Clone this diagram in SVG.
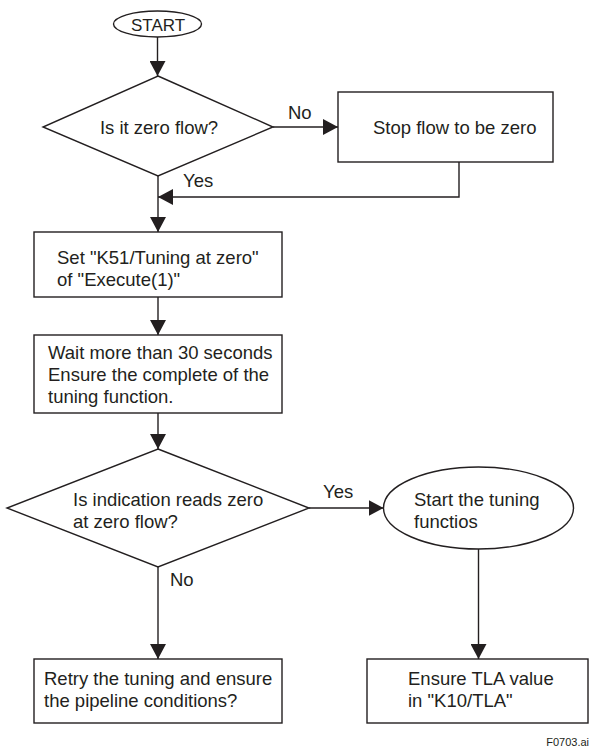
<svg xmlns="http://www.w3.org/2000/svg" width="591" height="751" viewBox="0 0 591 751">
<style>
.s{fill:#ffffff;stroke:#231f20;stroke-width:1.4}
.c{fill:none;stroke:#231f20;stroke-width:1.4}
text{font-family:"Liberation Sans",Arial,sans-serif;font-size:18.5px;fill:#231f20}
.m{text-anchor:middle}
</style>
<defs>
<marker id="ah" markerUnits="userSpaceOnUse" markerWidth="15" markerHeight="16" refX="15" refY="8" orient="auto">
<path d="M0,0 L15,8 L0,16 z" fill="#231f20"/>
</marker>
</defs>
<rect width="591" height="751" fill="#ffffff"/>
<g id="connectors">
<path class="c" d="M157.5,37 V76" marker-end="url(#ah)"/>
<path class="c" d="M273,127 H338" marker-end="url(#ah)"/>
<path class="c" d="M459,162 V197 H158" marker-end="url(#ah)"/>
<path class="c" d="M158,176 V232" marker-end="url(#ah)"/>
<path class="c" d="M158,297 V335" marker-end="url(#ah)"/>
<path class="c" d="M158,413 V449" marker-end="url(#ah)"/>
<path class="c" d="M309,508 H383.5" marker-end="url(#ah)"/>
<path class="c" d="M158,567 V659" marker-end="url(#ah)"/>
<path class="c" d="M478.5,549 V659" marker-end="url(#ah)"/>
<text x="288" y="119">No</text>
<text x="183" y="187">Yes</text>
<text x="323" y="498">Yes</text>
<text x="170" y="586">No</text>
</g>
<g id="start">
<ellipse class="s" cx="157.5" cy="24" rx="44" ry="13"/>
<text class="m" x="158" y="30.5" style="font-size:17px">START</text>
</g>
<g id="decision1">
<polygon class="s" points="158,76 273,127 158,176 43,127"/>
<text class="m" x="159" y="133.5">Is it zero flow?</text>
</g>
<g id="stopflow">
<rect class="s" x="338" y="92" width="215" height="70"/>
<text x="373" y="134">Stop flow to be zero</text>
</g>
<g id="setk51">
<rect class="s" x="34" y="232" width="248" height="65"/>
<text x="57" y="263.5">Set "K51/Tuning at zero"</text>
<text x="57" y="285.5">of "Execute(1)"</text>
</g>
<g id="wait">
<rect class="s" x="34" y="335" width="248" height="78"/>
<text x="48" y="358.5">Wait more than 30 seconds</text>
<text x="48" y="380.5">Ensure the complete of the</text>
<text x="48" y="402.5">tuning function.</text>
</g>
<g id="decision2">
<polygon class="s" points="158,449 309,508 158,567 7,508"/>
<text x="73" y="505.5">Is indication reads zero</text>
<text x="73" y="527.5">at zero flow?</text>
</g>
<g id="starttuning">
<ellipse class="s" cx="478.5" cy="508" rx="95" ry="41"/>
<text x="414" y="505.5">Start the tuning</text>
<text x="414" y="527.5">functios</text>
</g>
<g id="retry">
<rect class="s" x="34" y="659" width="248" height="64"/>
<text x="44" y="684.5">Retry the tuning and ensure</text>
<text x="44" y="706.5">the pipeline conditions?</text>
</g>
<g id="ensuretla">
<rect class="s" x="367" y="659" width="221" height="64"/>
<text x="408" y="684.5">Ensure TLA value</text>
<text x="408" y="706.5">in "K10/TLA"</text>
</g>
<text x="589" y="745.5" style="font-size:11px;text-anchor:end">F0703.ai</text>
</svg>
